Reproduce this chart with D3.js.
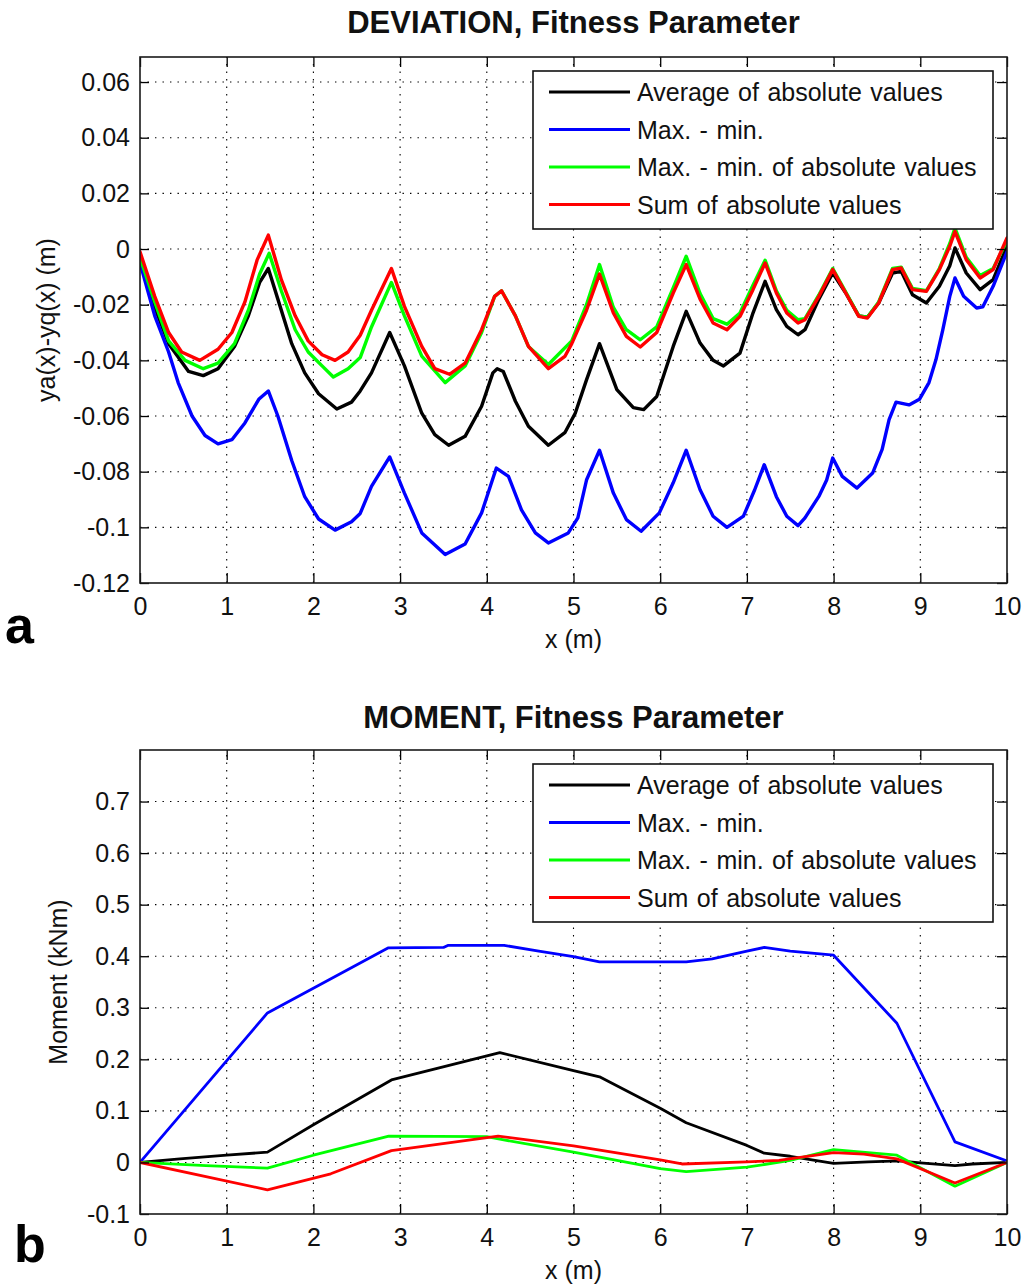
<!DOCTYPE html>
<html>
<head>
<meta charset="utf-8">
<script src="https://cdn.jsdelivr.net/npm/d3@7"></script>
<style>
  html, body { margin: 0; padding: 0; background: #ffffff; }
  svg { display: block; }
</style>
</head>
<body>
<div id="chart"></div>
<script>
// ---- Shared axis data ----------------------------------------------------
const xTicks = [0, 1, 2, 3, 4, 5, 6, 7, 8, 9, 10];
const deviationYTicks = [-0.12, -0.1, -0.08, -0.06, -0.04, -0.02, 0, 0.02, 0.04, 0.06];
const momentYTicks = [-0.1, 0, 0.1, 0.2, 0.3, 0.4, 0.5, 0.6, 0.7];

const seriesNames = [
  "Average of absolute values",
  "Max. - min.",
  "Max. - min. of absolute values",
  "Sum of absolute values"
];
const seriesColors = ["#000000", "#0000ff", "#00ff00", "#ff0000"];

// ---- Panel a: deviation ya(x)-yq(x) [m] along the beam ---------------------
const devAverage = [
  [0.00,-0.004],[0.17,-0.021],[0.33,-0.034],[0.56,-0.044],[0.73,-0.0455],[0.90,-0.043],
  [1.09,-0.035],[1.25,-0.024],[1.38,-0.012],[1.48,-0.007],[1.59,-0.018],[1.75,-0.034],
  [1.90,-0.0445],[2.06,-0.052],[2.27,-0.0575],[2.44,-0.055],[2.54,-0.051],[2.67,-0.0445],
  [2.88,-0.030],[3.05,-0.042],[3.25,-0.059],[3.40,-0.0667],[3.56,-0.0705],[3.75,-0.0673],
  [3.94,-0.0565],[4.07,-0.0445],[4.12,-0.043],[4.19,-0.044],[4.33,-0.0547],[4.48,-0.0637],
  [4.71,-0.0705],[4.90,-0.066],[5.02,-0.059],[5.15,-0.047],[5.30,-0.034],[5.50,-0.0505],
  [5.69,-0.057],[5.81,-0.0577],[5.96,-0.053],[6.15,-0.035],[6.30,-0.0224],[6.46,-0.0338],
  [6.61,-0.040],[6.73,-0.042],[6.92,-0.0374],[7.07,-0.023],[7.21,-0.0116],[7.34,-0.0218],
  [7.46,-0.0278],[7.59,-0.0308],[7.67,-0.029],[7.83,-0.018],[7.99,-0.0086],[8.14,-0.0158],
  [8.29,-0.024],[8.39,-0.0245],[8.52,-0.0194],[8.68,-0.0086],[8.78,-0.008],[8.91,-0.0164],
  [9.07,-0.0194],[9.22,-0.0134],[9.34,-0.006],[9.40,0.0004],[9.53,-0.0086],[9.69,-0.0146],
  [9.84,-0.011],[10.0,0.001]
];
const devMaxMin = [
  [0.00,-0.005],[0.17,-0.024],[0.33,-0.037],[0.44,-0.048],[0.60,-0.060],[0.75,-0.067],
  [0.90,-0.070],[1.06,-0.0685],[1.21,-0.0625],[1.37,-0.054],[1.48,-0.051],[1.59,-0.060],
  [1.75,-0.076],[1.90,-0.089],[2.06,-0.097],[2.25,-0.101],[2.44,-0.098],[2.54,-0.095],
  [2.67,-0.0853],[2.88,-0.0747],[3.05,-0.0877],[3.25,-0.102],[3.52,-0.1098],[3.75,-0.106],
  [3.94,-0.0948],[4.11,-0.0787],[4.25,-0.0817],[4.40,-0.0937],[4.56,-0.102],[4.71,-0.1056],
  [4.94,-0.102],[5.05,-0.0966],[5.15,-0.083],[5.30,-0.0723],[5.46,-0.0877],[5.61,-0.0972],
  [5.78,-0.1014],[5.99,-0.0948],[6.15,-0.084],[6.30,-0.0723],[6.46,-0.0865],[6.61,-0.096],
  [6.77,-0.100],[6.96,-0.096],[7.09,-0.0865],[7.20,-0.0775],[7.34,-0.089],[7.46,-0.096],
  [7.59,-0.0994],[7.67,-0.0966],[7.83,-0.0889],[7.92,-0.083],[7.99,-0.0751],[8.10,-0.0817],
  [8.27,-0.0859],[8.45,-0.0805],[8.56,-0.072],[8.64,-0.0613],[8.72,-0.055],[8.87,-0.056],
  [8.99,-0.054],[9.10,-0.048],[9.18,-0.0398],[9.26,-0.029],[9.34,-0.017],[9.40,-0.0104],
  [9.50,-0.017],[9.65,-0.0212],[9.72,-0.0208],[9.84,-0.0134],[10.0,-0.001]
];
const devMaxMinAbs = [
  [0.00,-0.003],[0.17,-0.019],[0.33,-0.033],[0.52,-0.040],[0.73,-0.043],[0.90,-0.041],
  [1.09,-0.034],[1.25,-0.022],[1.38,-0.009],[1.49,-0.0015],[1.63,-0.015],[1.79,-0.029],
  [1.94,-0.037],[2.10,-0.042],[2.23,-0.046],[2.40,-0.043],[2.54,-0.039],[2.67,-0.028],
  [2.90,-0.012],[3.05,-0.024],[3.25,-0.0385],[3.52,-0.048],[3.75,-0.042],[3.94,-0.030],
  [4.09,-0.017],[4.17,-0.015],[4.33,-0.024],[4.48,-0.035],[4.71,-0.0415],[4.98,-0.033],
  [5.15,-0.020],[5.30,-0.0056],[5.46,-0.021],[5.61,-0.029],[5.77,-0.0326],[5.96,-0.028],
  [6.15,-0.014],[6.30,-0.0026],[6.46,-0.016],[6.61,-0.025],[6.77,-0.027],[6.92,-0.023],
  [7.07,-0.013],[7.21,-0.004],[7.34,-0.015],[7.46,-0.022],[7.59,-0.0254],[7.67,-0.025],
  [7.83,-0.0165],[7.99,-0.007],[8.14,-0.0155],[8.29,-0.024],[8.39,-0.0245],[8.52,-0.019],
  [8.68,-0.007],[8.78,-0.0065],[8.91,-0.0142],[9.07,-0.015],[9.22,-0.007],[9.34,0.002],
  [9.40,0.0075],[9.53,-0.003],[9.69,-0.0095],[9.84,-0.007],[10.0,0.003]
];
const devSumAbs = [
  [0.00,-0.001],[0.17,-0.017],[0.33,-0.030],[0.48,-0.037],[0.69,-0.040],[0.90,-0.036],
  [1.06,-0.030],[1.21,-0.019],[1.35,-0.004],[1.48,0.005],[1.63,-0.011],[1.79,-0.024],
  [1.94,-0.033],[2.10,-0.038],[2.25,-0.040],[2.40,-0.037],[2.54,-0.031],[2.67,-0.022],
  [2.90,-0.007],[3.05,-0.0206],[3.25,-0.035],[3.40,-0.043],[3.57,-0.045],[3.75,-0.041],
  [3.94,-0.029],[4.09,-0.017],[4.17,-0.015],[4.33,-0.024],[4.48,-0.035],[4.71,-0.043],
  [4.90,-0.0386],[4.98,-0.034],[5.15,-0.022],[5.30,-0.009],[5.46,-0.023],[5.61,-0.0314],
  [5.77,-0.0352],[5.96,-0.030],[6.15,-0.0158],[6.30,-0.0056],[6.46,-0.018],[6.61,-0.0266],
  [6.77,-0.029],[6.92,-0.0242],[7.07,-0.0146],[7.21,-0.005],[7.34,-0.0158],[7.46,-0.023],
  [7.59,-0.0266],[7.67,-0.0254],[7.83,-0.017],[7.99,-0.0074],[8.14,-0.0158],[8.29,-0.0242],
  [8.39,-0.0248],[8.52,-0.0194],[8.68,-0.0074],[8.78,-0.0068],[8.91,-0.0146],[9.07,-0.0152],
  [9.22,-0.0074],[9.34,0.001],[9.40,0.0063],[9.53,-0.0038],[9.69,-0.0104],[9.84,-0.0074],
  [10.0,0.004]
];

// ---- Panel b: bending moment [kNm] along the beam -------------------------
const momAverage = [
  [0,0],[0.46,0.007],[1.0,0.014],[1.47,0.02],[2.0,0.073],[2.9,0.16],[4.15,0.213],
  [5.0,0.178],[5.3,0.166],[6.0,0.105],[6.3,0.077],[7.0,0.033],[7.2,0.018],[7.5,0.012],
  [8.0,-0.002],[8.4,0.001],[8.75,0.003],[9.0,-0.001],[9.4,-0.006],[9.6,-0.003],[10,0]
];
const momMaxMin = [
  [0,0],[1.47,0.29],[2.86,0.416],[3.5,0.417],[3.55,0.421],[4.2,0.421],[4.6,0.41],
  [5.0,0.399],[5.3,0.389],[6.3,0.389],[6.6,0.395],[7.0,0.41],[7.2,0.417],[7.5,0.41],
  [8.0,0.402],[8.73,0.27],[9.4,0.04],[10,0.003]
];
const momMaxMinAbs = [
  [0,0],[0.76,-0.006],[1.47,-0.011],[2.0,0.014],[2.87,0.051],[4.0,0.05],[4.15,0.045],
  [5.0,0.02],[6.0,-0.012],[6.3,-0.018],[7.0,-0.009],[7.2,-0.004],[7.5,0.004],[8.0,0.025],
  [8.73,0.014],[9.4,-0.046],[10,0]
];
const momSumAbs = [
  [0,0],[1.47,-0.053],[2.2,-0.022],[2.9,0.023],[4.13,0.051],[5.0,0.032],[6.0,0.005],
  [6.25,-0.003],[7.0,0.001],[7.37,0.004],[8.0,0.019],[8.35,0.016],[8.73,0.007],
  [9.4,-0.040],[10,0]
];

// ---- Drawing --------------------------------------------------------------
const W = 1027, H = 1288;
const FONT = "'Liberation Sans', Arial, Helvetica, sans-serif";

const svg = d3.select("#chart").append("svg")
  .attr("width", W).attr("height", H)
  .attr("viewBox", `0 0 ${W} ${H}`);
svg.append("rect").attr("width", W).attr("height", H).attr("fill", "#fff");

const panels = [
  {
    id: "dev", left: 140, right: 1007, top: 57, bottom: 583,
    yDomain: [-0.12, 0.069], yTicks: deviationYTicks,
    title: "DEVIATION, Fitness Parameter", titleY: 33,
    yLabel: "ya(x)-yq(x) (m)", yLabelX: 55,
    letter: "a", letterX: 5, letterY: 643,
    series: [devAverage, devMaxMin, devMaxMinAbs, devSumAbs], lineWidth: 3.4
  },
  {
    id: "mom", left: 140, right: 1007, top: 750, bottom: 1214,
    yDomain: [-0.1, 0.8], yTicks: momentYTicks,
    title: "MOMENT, Fitness Parameter", titleY: 728,
    yLabel: "Moment (kNm)", yLabelX: 67,
    letter: "b", letterX: 14, letterY: 1262,
    series: [momAverage, momMaxMin, momMaxMinAbs, momSumAbs], lineWidth: 2.8
  }
];

panels.forEach(p => {
  const x = d3.scaleLinear().domain([0, 10]).range([p.left, p.right]);
  const y = d3.scaleLinear().domain(p.yDomain).range([p.bottom, p.top]);
  const g = svg.append("g");
  const cx = (p.left + p.right) / 2;

  // dotted grid
  const grid = g.append("g").attr("stroke", "#000").attr("stroke-width", 1.1)
    .attr("stroke-dasharray", "1.4,6.1");
  xTicks.filter(t => t > 0 && t < 10).forEach(t => {
    grid.append("line").attr("x1", x(t)).attr("x2", x(t))
      .attr("y1", p.bottom).attr("y2", p.top);
  });
  p.yTicks.filter(t => y(t) < p.bottom - 1 && y(t) > p.top + 1).forEach(t => {
    grid.append("line").attr("x1", p.left).attr("x2", p.right)
      .attr("y1", y(t)).attr("y2", y(t));
  });

  // data lines
  const clipId = "clip-" + p.id;
  svg.append("clipPath").attr("id", clipId).append("rect")
    .attr("x", p.left).attr("y", p.top)
    .attr("width", p.right - p.left).attr("height", p.bottom - p.top);
  const line = d3.line().x(d => x(d[0])).y(d => y(d[1]));
  const lines = g.append("g").attr("clip-path", `url(#${clipId})`);
  p.series.forEach((s, i) => {
    lines.append("path").datum(s)
      .attr("d", line)
      .attr("fill", "none")
      .attr("stroke", seriesColors[i])
      .attr("stroke-width", p.lineWidth)
      .attr("stroke-linejoin", "round")
      .attr("stroke-linecap", "round");
  });

  // axes with inward ticks on all four sides
  const styleAxis = sel => {
    sel.attr("font-family", FONT).attr("font-size", 25);
    sel.select(".domain").remove();
    sel.selectAll(".tick line").attr("stroke", "#000").attr("stroke-width", 1.3);
    sel.selectAll(".tick text").attr("fill", "#111");
  };
  g.append("g").attr("transform", `translate(0,${p.bottom})`)
    .call(d3.axisBottom(x).tickValues(xTicks).tickSize(-10).tickPadding(14)
      .tickFormat(d => String(d)))
    .call(styleAxis);
  g.append("g").attr("transform", `translate(0,${p.top})`)
    .call(d3.axisTop(x).tickValues(xTicks).tickSize(-10).tickFormat(() => ""))
    .call(styleAxis);
  g.append("g").attr("transform", `translate(${p.left},0)`)
    .call(d3.axisLeft(y).tickValues(p.yTicks).tickSize(-9).tickPadding(10)
      .tickFormat(d => String(d)))
    .call(styleAxis);
  g.append("g").attr("transform", `translate(${p.right},0)`)
    .call(d3.axisRight(y).tickValues(p.yTicks).tickSize(-10).tickFormat(() => ""))
    .call(styleAxis);

  g.append("rect")
    .attr("x", p.left).attr("y", p.top)
    .attr("width", p.right - p.left).attr("height", p.bottom - p.top)
    .attr("fill", "none").attr("stroke", "#1a1a1a").attr("stroke-width", 1.6);

  // legend
  const lgX = 533, lgY = p.top + 14, lgW = 460, lgH = 158;
  const lg = g.append("g");
  lg.append("rect").attr("x", lgX).attr("y", lgY).attr("width", lgW).attr("height", lgH)
    .attr("fill", "#fff").attr("stroke", "#111").attr("stroke-width", 1.6);
  seriesNames.forEach((name, i) => {
    const ry = lgY + 21 + i * 37.5;
    lg.append("line").attr("x1", 549).attr("x2", 630).attr("y1", ry).attr("y2", ry)
      .attr("stroke", seriesColors[i]).attr("stroke-width", 3);
    lg.append("text").attr("x", 637).attr("y", ry).attr("dy", "0.36em")
      .attr("font-family", FONT).attr("font-size", 25).attr("fill", "#111")
      .attr("word-spacing", 1.5)
      .text(name);
  });

  // titles and labels
  g.append("text").attr("x", cx).attr("y", p.titleY)
    .attr("text-anchor", "middle").attr("font-family", FONT)
    .attr("font-size", 31).attr("font-weight", "bold").attr("fill", "#111")
    .text(p.title);
  g.append("text").attr("x", cx).attr("y", p.bottom + 65)
    .attr("text-anchor", "middle").attr("font-family", FONT)
    .attr("font-size", 25).attr("fill", "#111")
    .text("x (m)");
  g.append("text")
    .attr("transform", `translate(${p.yLabelX},${(p.top + p.bottom) / 2}) rotate(-90)`)
    .attr("text-anchor", "middle").attr("font-family", FONT)
    .attr("font-size", 25).attr("fill", "#111")
    .text(p.yLabel);
  g.append("text").attr("x", p.letterX).attr("y", p.letterY)
    .attr("font-family", FONT).attr("font-size", 52).attr("font-weight", "bold")
    .attr("fill", "#000")
    .text(p.letter);
});
</script>
</body>
</html>
